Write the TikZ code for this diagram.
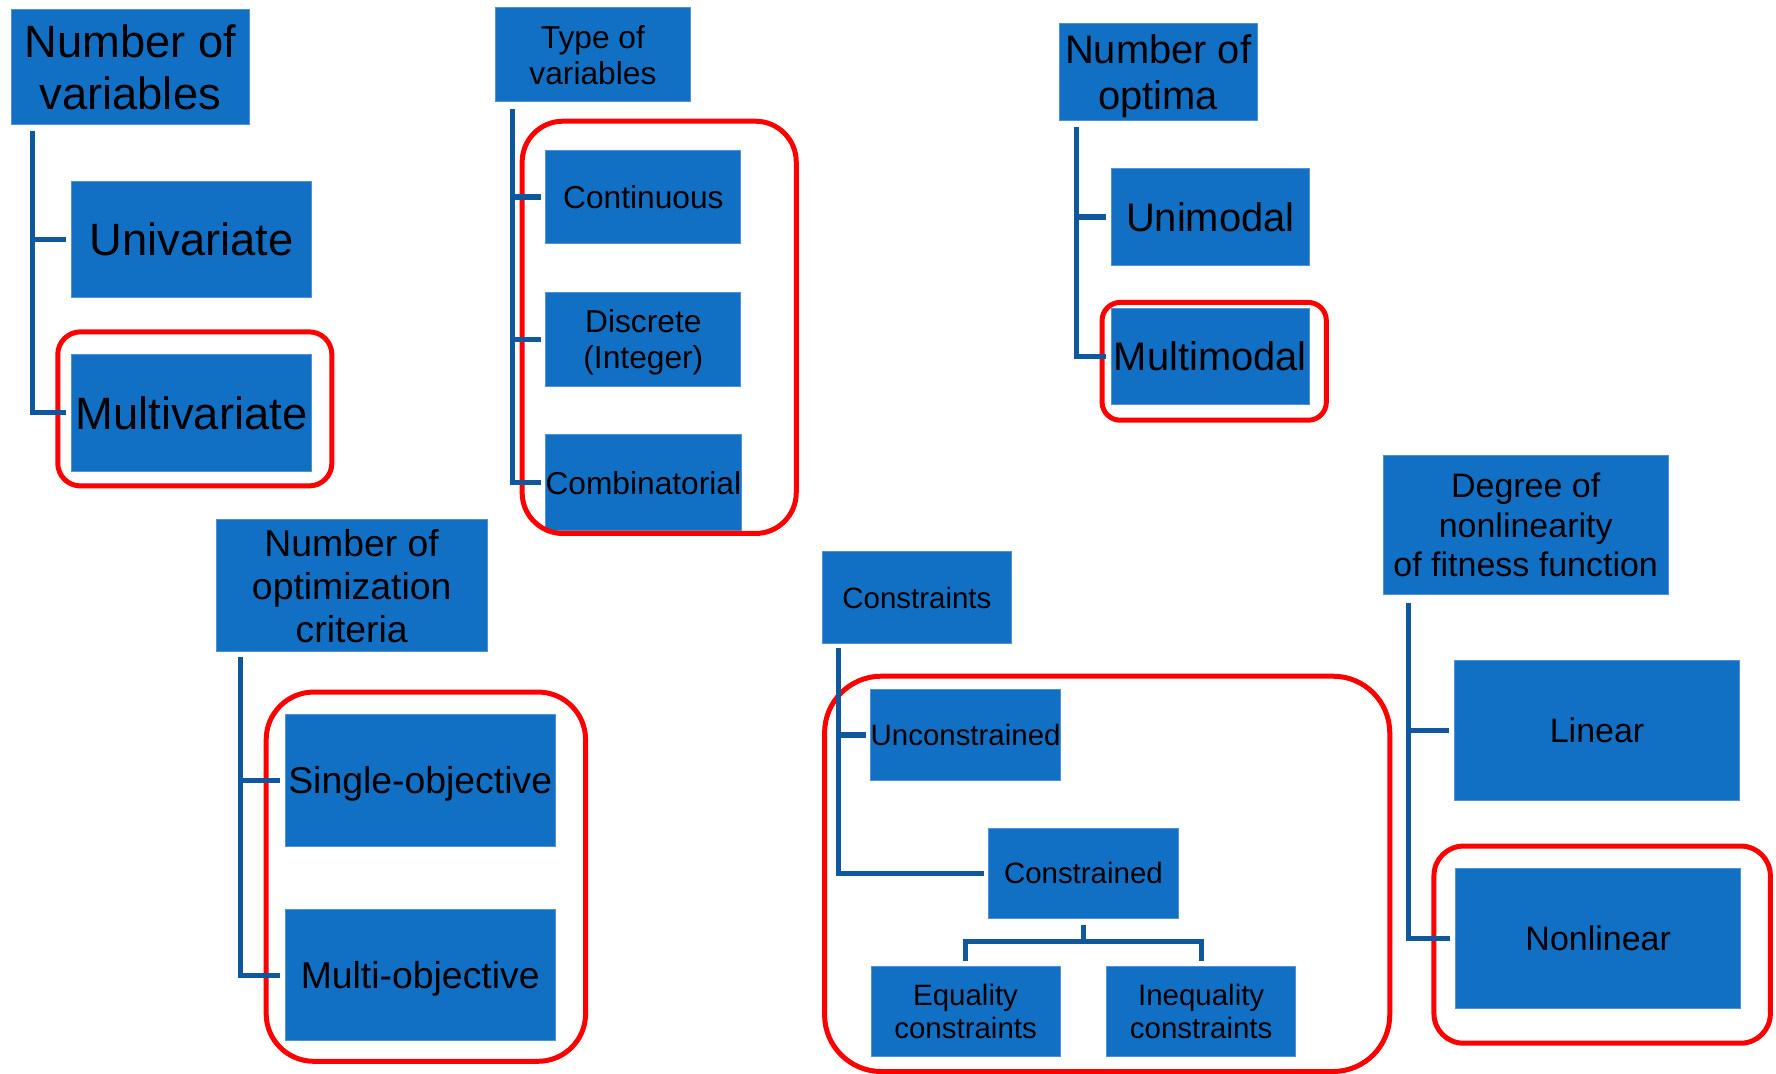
\documentclass[tikz,border=0pt]{standalone}
\usepackage{fontspec}
\setmainfont{Liberation Sans}
\usetikzlibrary{calc}
\definecolor{boxblue}{RGB}{17,112,196}
\definecolor{boxedge}{RGB}{80,145,215}
\definecolor{linkblue}{RGB}{16,88,158}
\definecolor{hlred}{RGB}{255,0,0}
\begin{document}
\begin{tikzpicture}[x=0.5pt, y=-0.5pt]
  \useasboundingbox (0,0) rectangle (1568,948);
  \tikzstyle{box}=[rectangle, fill=boxblue, draw=boxedge, line width=0.4pt, inner sep=0pt, text depth=0pt, align=center, text=black]
  \tikzstyle{link}=[draw=linkblue, line width=2.3pt, shorten >=2pt]
  \tikzstyle{hlframe}=[draw=hlred, line width=2.2pt]
  \tikzstyle{fA}=[font=\fontsize{20}{23}\selectfont]
  \tikzstyle{fB}=[font=\fontsize{14}{16}\selectfont]
  \tikzstyle{fC}=[font=\fontsize{17.6}{20.5}\selectfont]
  \tikzstyle{fD}=[font=\fontsize{16.5}{19}\selectfont]
  \tikzstyle{fE}=[font=\fontsize{13}{14.5}\selectfont]
  \tikzstyle{fF}=[font=\fontsize{15}{17.5}\selectfont]

  % Number of variables
  \node[box, fA, minimum width=105pt, minimum height=51pt]   (A0) at (115,   59)    {Number of\\variables};
  \node[box, fA, minimum width=106pt, minimum height=51.5pt] (A1) at (169,   211.5) {Univariate};
  \node[box, fA, minimum width=106pt, minimum height=51.5pt] (A2) at (169,   364.5) {Multivariate};

  % Type of variables
  \node[box, fB, minimum width=86.5pt, minimum height=41.5pt] (B0) at (523.5, 48.5)  {Type of\\variables};
  \node[box, fB, minimum width=86pt,   minimum height=41pt]   (B1) at (568,   174)   {Continuous};
  \node[box, fB, minimum width=86pt,   minimum height=41.5pt] (B2) at (568,   299.5) {Discrete\\(Integer)};
  \node[box, fB, minimum width=86pt,   minimum height=42pt]   (B3) at (568,   426)   {Combinatorial};

  % Number of optima
  \node[box, fC, minimum width=87.5pt, minimum height=42.5pt] (C0) at (1022.5, 63.5)  {Number of\\optima};
  \node[box, fC, minimum width=87.5pt, minimum height=42.5pt] (C1) at (1068.5, 191.5) {Unimodal};
  \node[box, fC, minimum width=87.5pt, minimum height=42.5pt] (C2) at (1068.5, 314.5) {Multimodal};

  % Number of optimization criteria
  \node[box, fD, minimum width=119.5pt, minimum height=58pt] (D0) at (310.5, 517) {Number of\\optimization\\criteria};
  \node[box, fD, minimum width=119pt,   minimum height=58pt] (D1) at (371,   689) {Single-objective};
  \node[box, fD, minimum width=119pt,   minimum height=58pt] (D2) at (371,   861) {Multi-objective};

  % Constraints
  \node[box, fE, minimum width=83.5pt, minimum height=40.5pt] (E0) at (809.5,  527.5) {Constraints};
  \node[box, fE, minimum width=83.5pt, minimum height=40pt]   (E1) at (852.5,  649)   {Unconstrained};
  \node[box, fE, minimum width=83.5pt, minimum height=40pt]   (E2) at (956.5,  771)   {Constrained};
  \node[box, fE, minimum width=83.5pt, minimum height=40pt]   (E3) at (852.5,  893)   {Equality\\constraints};
  \node[box, fE, minimum width=83.5pt, minimum height=40pt]   (E4) at (1060.5, 893)   {Inequality\\constraints};

  % Degree of nonlinearity
  \node[box, fF, minimum width=126pt, minimum height=61.5pt] (F0) at (1347, 463.5) {Degree of\\nonlinearity\\of fitness function};
  \node[box, fF, minimum width=126pt, minimum height=62pt]   (F1) at (1410, 645)   {Linear};
  \node[box, fF, minimum width=126pt, minimum height=61.5pt] (F2) at (1411, 828.5) {Nonlinear};

  % red highlights
  \draw[hlframe, rounded corners=10pt] (51,  293) rectangle (293,  429);
  \draw[hlframe, rounded corners=18pt] (461, 107) rectangle (703,  471);
  \draw[hlframe, rounded corners=8pt]  (973, 267) rectangle (1171, 371);
  \draw[hlframe, rounded corners=21pt] (235, 611) rectangle (517,  937);
  \draw[hlframe, rounded corners=25pt] (728, 597) rectangle (1227, 946);
  \draw[hlframe, rounded corners=13pt] (1266,747) rectangle (1563, 921);

  % connectors
  \coordinate (Aa) at ($(A0.south west)+(19,5)$);
  \coordinate (Ba) at ($(B0.south west)+(16,6)$);
  \coordinate (Ca) at ($(C0.south west)+(16,6)$);
  \coordinate (Da) at ($(D0.south west)+(22,5)$);
  \coordinate (Ea) at ($(E0.south west)+(15,4)$);
  \coordinate (Fa) at ($(F0.south west)+(23,7)$);

  \draw[link] (Aa) |- (A1.west);
  \draw[link] (Aa) |- (A2.west);
  \draw[link] (Ba) |- (B1.west);
  \draw[link] (Ba) |- (B2.west);
  \draw[link] (Ba) |- (B3.west);
  \draw[link] (Ca) |- (C1.west);
  \draw[link] (Ca) |- (C2.west);
  \draw[link] (Da) |- (D1.west);
  \draw[link] (Da) |- (D2.west);
  \draw[link] (Ea) |- (E1.west);
  \draw[link] (Ea) |- (E2.west);
  \draw[link, shorten >=0pt] ($(E2.south)+(0,5)$) -- ++(0,15) coordinate (Em);
  \draw[link] (Em) -| (E3.north);
  \draw[link] (Em) -| (E4.north);
  \draw[link] (Fa) |- (F1.west);
  \draw[link] (Fa) |- (F2.west);
\end{tikzpicture}
\end{document}
